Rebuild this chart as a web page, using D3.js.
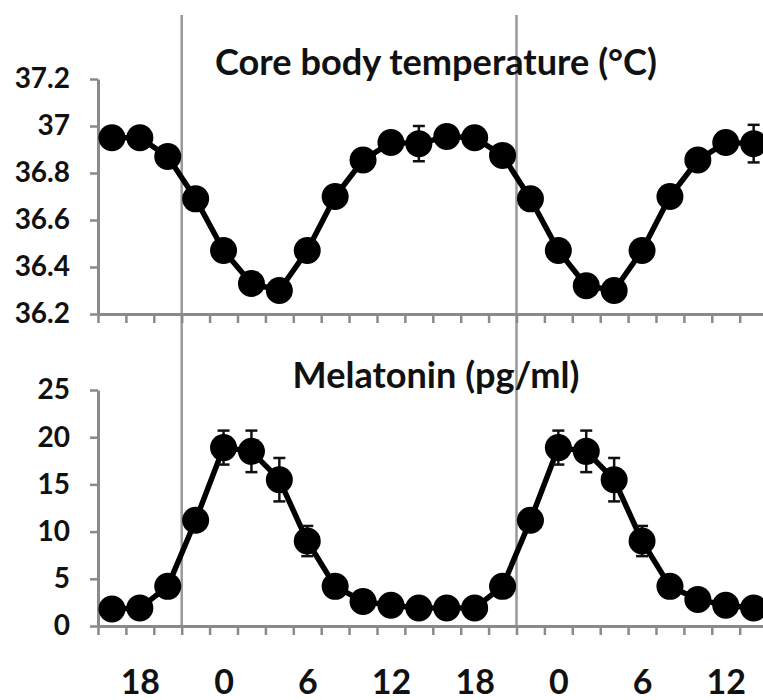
<!DOCTYPE html>
<html>
<head>
<meta charset="utf-8">
<script src="https://cdn.jsdelivr.net/npm/d3@7/dist/d3.min.js"></script>
<style>
  html, body { margin: 0; padding: 0; background: #fff; }
  svg { display: block; }
  text { font-family: Lato, "Open Sans", sans-serif; font-weight: 700; fill: #111; }
</style>
</head>
<body>
<svg id="chart" width="763" height="700"></svg>
<script>
// ---- data ----
const hours = [16,18,20,22,0,2,4,6,8,10,12,14,16,18,20,22,0,2,4,6,8,10,12,14];
const temperature = [36.95,36.95,36.87,36.69,36.47,36.33,36.30,36.47,36.70,36.855,36.93,36.925,
                     36.955,36.95,36.875,36.69,36.47,36.32,36.30,36.47,36.70,36.855,36.93,36.925];
const temperatureErr = [0.03,0.03,0.03,0.03,0.03,0.03,0.04,0.03,0.03,0.03,0.04,0.075,
                        0.03,0.03,0.03,0.03,0.03,0.03,0.04,0.03,0.03,0.03,0.04,0.08];
const melatonin = [1.8,1.9,4.2,11.2,18.9,18.5,15.5,9.0,4.2,2.6,2.2,1.9,
                   1.9,1.9,4.2,11.2,18.9,18.5,15.5,9.0,4.2,2.8,2.2,1.9];
const melatoninErr = [0.3,0.3,0.5,0.8,1.8,2.2,2.3,1.6,0.6,0.4,0.3,0.3,
                      0.3,0.3,0.5,0.8,1.8,2.2,2.3,1.6,0.6,0.4,0.3,0.3];
const tempTicks = [36.2,36.4,36.6,36.8,37.0,37.2];
const melTicks = [0,5,10,15,20,25];
const dividers = [3,15];          // category boundaries marked by vertical lines
const titles = ["Core body temperature  (°C)", "Melatonin (pg/ml)"];

// ---- layout ----
const svg = d3.select("#chart");
const left = 98, catW = 27.9;
const x = d3.scaleLinear().domain([0, hours.length]).range([left, left + catW * hours.length]);
const yT = d3.scaleLinear().domain([36.2, 37.2]).range([314, 79]);
const yM = d3.scaleLinear().domain([0, 25]).range([626, 390]);
const axisColor = "#8a8a8a";

// vertical divider lines
svg.append("g").selectAll("line").data(dividers).join("line")
  .attr("x1", d => x(d)).attr("x2", d => x(d))
  .attr("y1", 15).attr("y2", 626)
  .attr("stroke", "#999").attr("stroke-width", 2.5);

function styleAxis(g) {
  g.select(".domain").attr("stroke", axisColor).attr("stroke-width", 3);
  g.selectAll(".tick line").attr("stroke", axisColor).attr("stroke-width", 2.5);
  g.selectAll("text").attr("fill", "#111");
}

function panel(y, values, errs, ticks, fmt, title, titleY, titleW) {
  // y axis
  const ya = svg.append("g").attr("transform", `translate(${left},0)`)
    .call(d3.axisLeft(y).tickValues(ticks).tickFormat(fmt).tickSize(8).tickSizeOuter(0).tickPadding(20));
  ya.selectAll("text").attr("font-size", 28).attr("font-family", "Lato").attr("font-weight", 700);
  styleAxis(ya);
  // x axis (ticks at category boundaries)
  const xa = svg.append("g").attr("transform", `translate(0,${y.range()[0]})`)
    .call(d3.axisBottom(x).tickValues(d3.range(0, hours.length + 1)).tickFormat("").tickSize(9).tickSizeOuter(0));
  styleAxis(xa);

  const pts = values.map((v, i) => ({ i, v, e: errs[i] }));
  // line
  svg.append("path").datum(pts)
    .attr("fill", "none").attr("stroke", "#000").attr("stroke-width", 5.5).attr("stroke-linejoin", "round")
    .attr("d", d3.line().x(d => x(d.i + 0.5)).y(d => y(d.v)));
  // error bars
  const eb = svg.append("g").attr("stroke", "#111").attr("stroke-width", 2.5);
  pts.forEach(d => {
    const cx = x(d.i + 0.5);
    eb.append("line").attr("x1", cx).attr("x2", cx).attr("y1", y(d.v - d.e)).attr("y2", y(d.v + d.e));
    eb.append("line").attr("x1", cx - 6).attr("x2", cx + 6).attr("y1", y(d.v - d.e)).attr("y2", y(d.v - d.e));
    eb.append("line").attr("x1", cx - 6).attr("x2", cx + 6).attr("y1", y(d.v + d.e)).attr("y2", y(d.v + d.e));
  });
  // markers
  svg.append("g").selectAll("circle").data(pts).join("circle")
    .attr("cx", d => x(d.i + 0.5)).attr("cy", d => y(d.v)).attr("r", 13.5).attr("fill", "#000");
  // title
  const t = svg.append("text").attr("x", 436).attr("y", titleY).attr("text-anchor", "middle")
    .attr("font-size", 30).text(title);
  const w = t.node().getComputedTextLength();
  t.attr("font-size", 30 * titleW / w);
}

panel(yT, temperature, temperatureErr, tempTicks, d => String(+d.toFixed(1)), titles[0], 75, 442);
panel(yM, melatonin, melatoninErr, melTicks, d => String(d), titles[1], 388, 287);

// hour labels (centered in categories)
const labelIdx = hours.map((h, i) => i).filter(i => hours[i] % 6 === 0);
const la = svg.append("g").attr("transform", `translate(0,626)`)
  .call(d3.axisBottom(x).tickValues(labelIdx.map(i => i + 0.5))
    .tickFormat(d => String(hours[Math.floor(d)])).tickSize(0).tickPadding(44));
la.select(".domain").remove();
la.selectAll("text").attr("font-size", 34).attr("font-family", "Lato").attr("font-weight", 700).attr("fill", "#111");
</script>
</body>
</html>
